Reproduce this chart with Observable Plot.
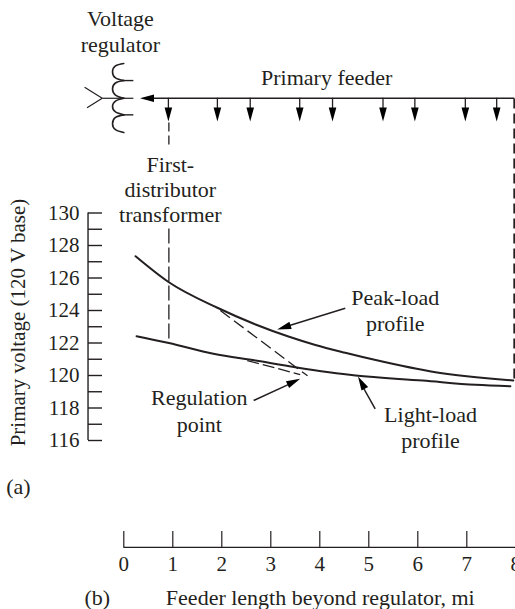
<!DOCTYPE html>
<html>
<head>
<meta charset="utf-8">
<script src="https://cdn.jsdelivr.net/npm/d3@7"></script>
<script src="https://cdn.jsdelivr.net/npm/@observablehq/plot@0.6"></script>
<style>html,body{margin:0;padding:0;background:#fff}svg{display:block}</style>
</head>
<body>
<div id="chart"></div>
<script>
const ink = "#231f20";
// Load profiles: feeder length (mi), primary voltage (V)
const peakX = [0.24, 0.92, 1.91, 2.69, 3.36, 3.91, 4.52, 5.14, 6.36, 7.95];
const peakV = [127.34, 125.74, 124.17, 123.14, 122.4, 121.88, 121.4, 120.95, 120.2, 119.69];
const lightX = [0.26, 0.92, 1.83, 2.69, 3.5, 4.73, 6.1, 7.18, 7.89];
const lightV = [122.42, 122.0, 121.34, 120.92, 120.51, 120.0, 119.69, 119.43, 119.34];
// Diagram geometry, expressed in the same axis units
const tapX = [0.91, 1.91, 2.58, 3.59, 4.26, 5.29, 5.94, 6.97, 7.61];
const yTicks = [116,117,118,119,120,121,122,123,124,125,126,127,128,129,130];
const xTicks = [0,1,2,3,4,5,6,7,8];
const coilX = [0, -0.17, -0.23, -0.17, 0];
const coilV = [
  [139.2, 139.05, 138.68, 138.31, 138.15],
  [138.15, 138.0, 137.63, 137.26, 137.06],
  [137.06, 136.89, 136.55, 136.22, 136.04],
  [136.04, 135.88, 135.5, 135.13, 134.95]
];
const dashes = [
  {x1:0.92,y1:135.57,x2:0.92,y2:133.97,w:1.3,d:"9,4"},
  {x1:0.92,y1:129.05,x2:0.92,y2:122.03,w:1.3,d:"15,4"},
  {x1:7.97,y1:137.05,x2:7.97,y2:119.69,w:2,d:"10,5"},
  {x1:1.97,y1:124.0,x2:3.75,y2:119.98,w:1.3,d:"12,5"},
  {x1:2.52,y1:120.92,x2:3.6,y2:120.06,w:1.3,d:"12,4"}
];
const solids = [
  {x1:0.545,y1:137.06,x2:7.97,y2:137.06,w:1.6},
  {x1:-0.44,y1:137.06,x2:0.195,y2:137.06,w:1.2},
  {x1:-0.05,y1:138.15,x2:0.195,y2:138.15,w:1.4},
  {x1:-0.05,y1:136.04,x2:0.195,y2:136.04,w:1.4},
  {x1:-0.80,y1:137.74,x2:-0.44,y2:137.06,w:1.2},
  {x1:-0.75,y1:136.47,x2:-0.44,y2:137.06,w:1.2},
  {x1:4.52,y1:124.14,x2:3.3,y2:123.0,w:1.5},
  {x1:5.13,y1:117.95,x2:4.86,y2:119.4,w:1.5},
  {x1:2.65,y1:118.46,x2:3.4,y2:119.5,w:1.5}
];
const heads = [
  {x:0.33,y:137.06,a:-90},
  {x:3.13,y:122.83,a:-107},
  {x:4.78,y:119.94,a:-29},
  {x:3.6,y:119.8,a:65}
];
const labels = [
  {t:"Voltage",x:-0.07,y:141.94},{t:"regulator",x:-0.07,y:140.34},
  {t:"Primary feeder",x:4.14,y:138.31},
  {t:"First-",x:0.95,y:132.95},{t:"distributor",x:0.95,y:131.42},{t:"transformer",x:0.95,y:129.85},
  {t:"Peak-load",x:5.54,y:124.77},{t:"profile",x:5.54,y:123.17},
  {t:"Regulation",x:1.54,y:118.62},{t:"point",x:1.54,y:116.95},
  {t:"Light-load",x:6.26,y:117.57},{t:"profile",x:6.26,y:115.97},
  {t:"(a)",x:-2.15,y:113.14},{t:"(b)",x:-0.54,y:106.31},
  {t:"Feeder length beyond regulator, mi",x:4.01,y:106.31}
];
const yTitle = "Primary voltage (120 V base)";
const arrowHead = {draw(c){c.moveTo(0,0);c.lineTo(-3.8,14);c.lineTo(3.8,14);c.closePath();}};
const coil = coilV.flatMap((vs,i)=>vs.map((v,j)=>({x:coilX[j],v,i})));
const peak = peakX.map((x,i)=>({x,v:peakV[i]}));
const light = lightX.map((x,i)=>({x,v:lightV[i]}));

const chart = Plot.plot({
  width:515, height:609,
  marginLeft:88, marginRight:0, marginTop:0, marginBottom:62,
  style:{fontFamily:"'Liberation Serif',serif",fontSize:"21px",color:ink,background:"#fff"},
  x:{domain:[0,8],range:[123.3,515.3]},
  y:{domain:[130,116],range:[212.5,440]},
  marks:[
    Plot.axisY({ticks:yTicks,tickSize:-14,tickPadding:23,label:null,fontSize:21,strokeWidth:1.4,
      tickFormat:d=>d%2?"":String(d)}),
    Plot.axisX({ticks:xTicks,tickSize:-16,tickPadding:25,label:null,fontSize:21,strokeWidth:1.2,
      tickFormat:d=>String(d)}),
    Plot.ruleX([-0.73],{y1:116,y2:130,stroke:ink,strokeWidth:1.4}),
    Plot.ruleY([109.42],{x1:0,x2:8,stroke:ink,strokeWidth:1.2}),
    Plot.line(peak,{x:"x",y:"v",curve:"monotone-x",stroke:ink,strokeWidth:2}),
    Plot.line(light,{x:"x",y:"v",curve:"monotone-x",stroke:ink,strokeWidth:2}),
    Plot.line(coil,{x:"x",y:"v",z:"i",curve:"natural",stroke:ink,strokeWidth:1.6}),
    ...dashes.map(d=>Plot.link([d],{x1:"x1",y1:"y1",x2:"x2",y2:"y2",stroke:ink,strokeWidth:d.w,strokeDasharray:d.d})),
    Plot.link(solids,{x1:"x1",y1:"y1",x2:"x2",y2:"y2",stroke:ink,strokeWidth:"w"}),
    Plot.ruleX(tapX,{y1:137.06,y2:136.4,stroke:ink,strokeWidth:1.3}),
    Plot.dot(tapX,{x:d=>d,y:135.63,symbol:arrowHead,rotate:180,fill:"#000",stroke:"none",r:4}),
    Plot.dot(heads,{x:"x",y:"y",rotate:"a",symbol:arrowHead,fill:"#000",stroke:"none",r:4}),
    Plot.text(labels,{x:"x",y:"y",text:"t",fill:ink,fontSize:22,lineAnchor:"middle"}),
    Plot.text([yTitle],{x:-2.15,y:123.26,rotate:-90,fill:ink,fontSize:21,lineAnchor:"middle"})
  ]
});
document.getElementById("chart").append(chart);
</script>
</body>
</html>
